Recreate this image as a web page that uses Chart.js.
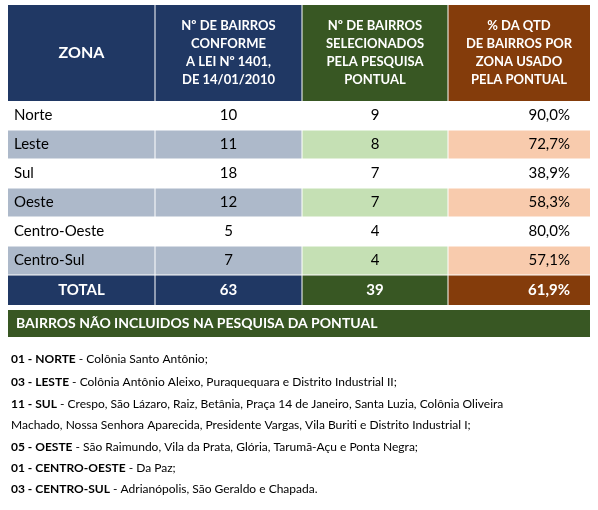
<!DOCTYPE html>
<html><head><meta charset="utf-8">
<script src="https://cdn.jsdelivr.net/npm/chart.js@4"></script>
<style>body{margin:0;background:#fff}</style>
</head><body>
<canvas id="tabela" width="598" height="510"></canvas>
<script>
'use strict';

var headers = ['ZONA', 'Nº DE BAIRROS\nCONFORME\nA LEI Nº 1401,\nDE 14/01/2010', 'Nº DE BAIRROS\nSELECIONADOS\nPELA PESQUISA\nPONTUAL', '% DA QTD\nDE BAIRROS POR\nZONA USADO\nPELA PONTUAL'];
var zonas = ['Norte', 'Leste', 'Sul', 'Oeste', 'Centro-Oeste', 'Centro-Sul'];
var bairrosLei = [10, 11, 18, 12, 5, 7];
var bairrosPesquisa = [9, 8, 7, 7, 4, 4];
var percentual = ['90,0%', '72,7%', '38,9%', '58,3%', '80,0%', '57,1%'];
var total = ['TOTAL', '63', '39', '61,9%'];
var tituloBanner = 'BAIRROS NÃO INCLUIDOS NA PESQUISA DA PONTUAL';
var notas = [
    ['01 - NORTE', ' - Colônia Santo Antônio;'],
    ['03 - LESTE', ' - Colônia Antônio Aleixo, Puraquequara e Distrito Industrial II;'],
    ['11 - SUL', ' - Crespo, São Lázaro, Raiz, Betânia, Praça 14 de Janeiro, Santa Luzia, Colônia Oliveira'],
    ['', 'Machado, Nossa Senhora Aparecida, Presidente Vargas, Vila Buriti e Distrito Industrial I;'],
    ['05 - OESTE', ' - São Raimundo, Vila da Prata, Glória, Tarumã-Açu e Ponta Negra;'],
    ['01 - CENTRO-OESTE', ' - Da Paz;'],
    ['03 - CENTRO-SUL', ' - Adrianópolis, São Geraldo e Chapada.']
];

// layout in scale units
var colEdges = [8, 155, 302, 448, 590];
var headerTop = 5, headerBottom = 101, rowH = 29, totalH = 30;
var bannerTop = 310, bannerBottom = 337;
var notaY = [359, 382, 404, 425, 447, 468, 489];

var darkCols = ['#203864', '#203864', '#385723', '#843c0b'];
var lightCols = ['#adb9ca', '#adb9ca', '#c5e0b4', '#f8cbad'];
var FONT = 'Lato, "Open Sans", sans-serif';

var tablePlugin = {
    id: 'tablePlugin',
    afterDraw: function(chart){
        var ctx = chart.ctx, sx = chart.scales.x, sy = chart.scales.y;
        var X = function(v){ return sx.getPixelForValue(v); };
        var Y = function(v){ return sy.getPixelForValue(v); };
        var cell = function(c, top, bot, fill){
            ctx.fillStyle = fill;
            ctx.fillRect(X(colEdges[c]), Y(top), X(colEdges[c+1]) - X(colEdges[c]), Y(bot) - Y(top));
        };
        var text = function(t, x, y, align, font, color){
            ctx.font = font; ctx.fillStyle = color; ctx.textAlign = align; ctx.textBaseline = 'middle';
            ctx.fillText(t, X(x), Y(y));
        };
        ctx.save();
        // header
        headers.forEach(function(h, c){
            cell(c, headerTop, headerBottom, darkCols[c]);
            var lines = h.split('\n');
            var mid = (headerTop + headerBottom) / 2, lh = 18;
            lines.forEach(function(l, i){
                text(l, (colEdges[c] + colEdges[c+1]) / 2, mid + (i - (lines.length - 1) / 2) * lh,
                    'center', (c === 0 ? 'bold 16px ' : 'bold 13px ') + FONT, '#fff');
            });
        });
        // rows
        zonas.forEach(function(z, r){
            var top = headerBottom + r * rowH, bot = top + rowH, mid = (top + bot) / 2;
            var vals = [z, String(bairrosLei[r]), String(bairrosPesquisa[r]), percentual[r]];
            vals.forEach(function(v, c){
                cell(c, top, bot, r % 2 === 1 ? lightCols[c] : '#fff');
                if (c === 0) text(v, colEdges[0] + 6, mid, 'left', '15px ' + FONT, '#000');
                else if (c === 3) text(v, colEdges[4] - 20, mid, 'right', '15px ' + FONT, '#000');
                else text(v, (colEdges[c] + colEdges[c+1]) / 2, mid, 'center', '15px ' + FONT, '#000');
            });
        });
        var tTop = headerBottom + zonas.length * rowH, tBot = tTop + totalH;
        total.forEach(function(v, c){
            cell(c, tTop, tBot, darkCols[c]);
            if (c === 3) text(v, colEdges[4] - 20, (tTop + tBot) / 2, 'right', 'bold 15px ' + FONT, '#fff');
            else text(v, (colEdges[c] + colEdges[c+1]) / 2, (tTop + tBot) / 2, 'center', 'bold 15px ' + FONT, '#fff');
        });
        // white separators
        ctx.strokeStyle = '#fff'; ctx.lineWidth = 1;
        for (var r = 1; r <= zonas.length; r++){
            var yy = Y(headerBottom + r * rowH);
            ctx.beginPath(); ctx.moveTo(X(colEdges[0]), yy); ctx.lineTo(X(colEdges[4]), yy); ctx.stroke();
        }
        for (var c = 1; c < 4; c++){
            ctx.beginPath(); ctx.moveTo(X(colEdges[c]), Y(headerTop)); ctx.lineTo(X(colEdges[c]), Y(tBot)); ctx.stroke();
        }
        // banner
        ctx.fillStyle = '#385723';
        ctx.fillRect(X(colEdges[0]), Y(bannerTop), X(colEdges[4]) - X(colEdges[0]), Y(bannerBottom) - Y(bannerTop));
        text(tituloBanner, colEdges[0] + 8, (bannerTop + bannerBottom) / 2, 'left', 'bold 14px ' + FONT, '#fff');
        // notes
        notas.forEach(function(n, i){
            ctx.textBaseline = 'middle'; ctx.textAlign = 'left'; ctx.fillStyle = '#000';
            var x0 = X(colEdges[0] + 3);
            ctx.font = 'bold 12px ' + FONT;
            ctx.fillText(n[0], x0, Y(notaY[i]));
            var w = n[0] ? ctx.measureText(n[0]).width : 0;
            ctx.font = '12px ' + FONT;
            ctx.fillText(n[1], x0 + w, Y(notaY[i]));
        });
        ctx.restore();
    }
};

var Tabela = function(){
    var _draw = function(){
        var ctx = document.getElementById('tabela').getContext('2d');
        window.tabela = new Chart(ctx, {
            type: 'scatter',
            data: { datasets: [{ data: [] }] },
            options: {
                responsive: false,
                animation: false,
                layout: { padding: 0 },
                plugins: { legend: { display: false }, tooltip: { enabled: false } },
                scales: {
                    x: { type: 'linear', min: 0, max: 598, display: false },
                    y: { type: 'linear', min: 0, max: 510, reverse: true, display: false }
                }
            },
            plugins: [tablePlugin]
        });
    };
    return { init: function(){ _draw(); } };
}();

document.addEventListener('DOMContentLoaded', function(){
    Tabela.init();
});
</script>
</body></html>
